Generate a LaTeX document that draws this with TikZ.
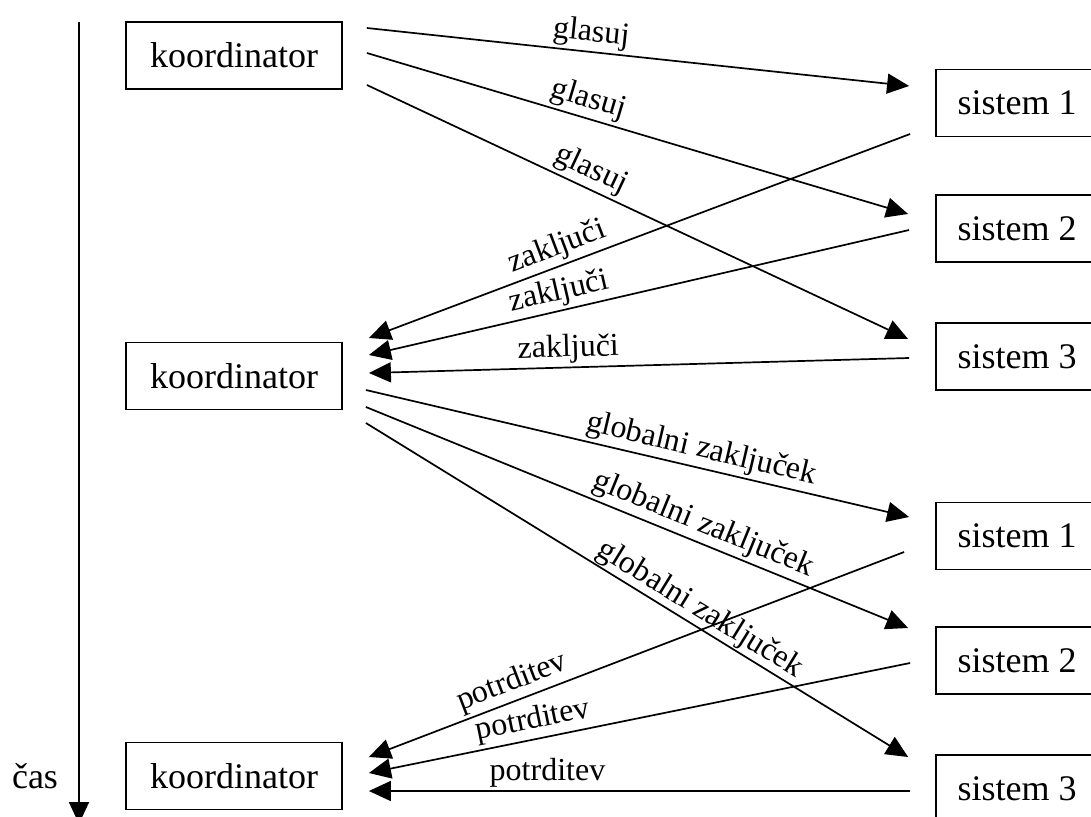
\documentclass[tikz,border=0pt]{standalone}
\usepackage{fontspec}
\setmainfont{Liberation Serif}
\usetikzlibrary{arrows.meta,calc}

\begin{document}
\begin{tikzpicture}[x=1pt,y=-1pt,
  box/.style={draw, line width=1.8pt, minimum height=67pt, inner sep=0pt,
    font=\fontsize{36}{40}\selectfont},
  kbox/.style={box, minimum width=216pt},
  sbox/.style={box, minimum width=162pt},
  msg/.style={-{Triangle[length=22pt,width=20pt]}, line width=1.7pt},
  lbl/.style={font=\fontsize{32}{36}\selectfont, sloped, above, inner sep=3pt}]
\useasboundingbox (0,0) rectangle (1091,816);
\clip (0,0) rectangle (1091,816);

% coordinator at three moments in time
\node[kbox] (k1) at (234,55.5) {koordinator};
\node[kbox] (k2) at (234,376) {koordinator};
\node[kbox] (k3) at (234,776) {koordinator};

% participating systems, first and second phase
\node[sbox] (s1a) at (1017,103) {sistem 1};
\node[sbox] (s2a) at (1017,228.5) {sistem 2};
\node[sbox] (s3a) at (1017,356.5) {sistem 3};
\node[sbox] (s1b) at (1017,536) {sistem 1};
\node[sbox] (s2b) at (1017,660.5) {sistem 2};
\node[sbox] (s3b) at (1017,788.5) {sistem 3};

% time axis
\coordinate (t0) at (79,22);
\coordinate (t1) at (79,824);
\draw[msg] (t0) -- (t1);
\node[anchor=base, font=\fontsize{36}{40}\selectfont, inner sep=0pt] (cas) at (35,788) {čas};

% phase 1: vote requests
\draw[msg] ($(k1.east)+(24,-27.5)$) -- node[lbl, pos=.41] {glasuj} ($(s1a.west)+(-26,-17)$);
\draw[msg] ($(k1.east)+(24,-2.5)$) -- node[lbl, pos=.40] {glasuj} ($(s2a.west)+(-27,-14.5)$);
\draw[msg] ($(k1.east)+(24,29.5)$) -- node[lbl, pos=.40] {glasuj} ($(s3a.west)+(-27,-17.5)$);

% phase 1: votes
\draw[msg] ($(s1a.west)+(-25,31)$) -- node[lbl, pos=.64] {zaključi} ($(k2.east)+(26,-38)$);
\draw[msg] ($(s2a.west)+(-26,1.5)$) -- node[lbl, pos=.64] {zaključi} ($(k2.east)+(26,-21)$);
\draw[msg] ($(s3a.west)+(-26,1.5)$) -- node[lbl, pos=.63] {zaključi} ($(k2.east)+(26,-3)$);

% phase 2: global decision
\draw[msg] ($(k2.east)+(23,14)$) -- node[lbl, pos=.61] {globalni zaključek} ($(s1b.west)+(-26,-19)$);
\draw[msg] ($(k2.east)+(23,31)$) -- node[lbl, pos=.61] {globalni zaključek} ($(s2b.west)+(-27,-32.5)$);
\draw[msg] ($(k2.east)+(23,47)$) -- node[lbl, pos=.60, inner sep=1pt] {globalni zaključek} ($(s3b.west)+(-27,-31.5)$);

% phase 2: acknowledgements
\draw[msg] ($(s1b.west)+(-31,16)$) -- node[lbl, pos=.72] {potrditev} ($(k3.east)+(26,-19)$);
\draw[msg] ($(s2b.west)+(-25,2.5)$) -- node[lbl, pos=.69] {potrditev} ($(k3.east)+(26,-3)$);
\draw[msg] ($(s3b.west)+(-25,2.5)$) -- node[lbl, pos=.67] {potrditev} ($(k3.east)+(26,15)$);
\end{tikzpicture}
\end{document}
